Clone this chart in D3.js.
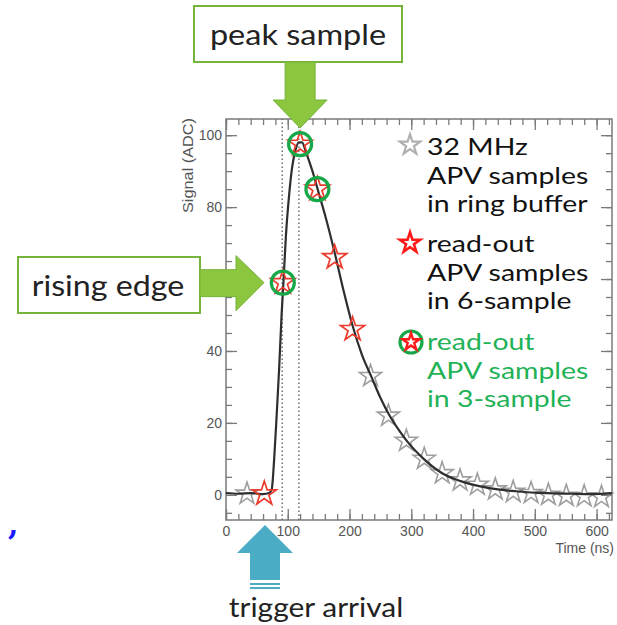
<!DOCTYPE html>
<html>
<head>
<meta charset="utf-8">
<script src="https://cdn.jsdelivr.net/npm/d3@7"></script>
<style>
  html, body { margin: 0; padding: 0; background: #fff; }
  svg { display: block; }
</style>
</head>
<body>
<svg id="chart" width="617" height="625"></svg>
<script>
// fitted pulse shape (time ns, signal ADC)
const curveTime = [0, 20, 40, 60, 70, 74, 78, 82, 86, 90, 93, 97, 102, 107, 112, 118, 123, 130, 140, 150, 160, 175, 190, 205, 220, 235, 250, 265, 280, 295, 320, 350, 380, 410, 440, 470, 500, 530, 560, 590, 625];
const curveSignal = [0.5, 0.3, 0.5, 0.2, 0.5, 1.5, 10, 22, 35, 50, 59, 72, 83, 91, 95.5, 98, 98, 95, 90, 84, 78, 68, 57, 47, 39, 33, 27, 22, 18, 14.5, 10, 6, 3.8, 2.4, 1.5, 1, 0.6, 0.4, 0.3, 0.2, 0.5];

// 32 MHz APV samples
const sampleTime = [34, 62, 92, 120, 148, 176, 205, 234, 263, 292, 321, 350, 379, 407, 436, 465, 494, 522, 551, 580, 608];
const sampleSignal = [0.3, 0.3, 59, 97.5, 85, 66, 46, 33, 22, 15, 10, 6, 4, 2.8, 1.5, 0.8, 0.5, 0, -0.3, -0.4, -0.6];
// which samples are read out
const sixSample = [1, 2, 3, 4, 5, 6];
const threeSample = [2, 3, 4];

const triggerMarks = [91, 118];
const xTicks = [0, 100, 200, 300, 400, 500, 600];
const yTicks = [0, 20, 40, 60, 80, 100];

const legendLines = [
  ["32 MHz", "APV samples", "in ring buffer"],
  ["read-out", "APV samples", "in 6-sample"],
  ["read-out", "APV samples", "in 3-sample"]
];

const svg = d3.select('#chart');
const plotLeft = 226, plotRight = 612, plotTop = 119, plotBottom = 520;
const x = d3.scaleLinear().domain([0, 625]).range([plotLeft, plotRight]);
const y = d3.scaleLinear().domain([-7, 104.5]).range([plotBottom, plotTop]);

const axisColor = '#7a7a7a';
const tickFont = '"Liberation Sans", Arial, sans-serif';
const noteFont = 'Lato, "Open Sans", sans-serif';
const green = '#8cc63f', greenDark = '#76b33a', textGreen = '#1fb257';

// the slide text is a wide humanist face, so Lato gets stretched a little
function wideText(parent, tx, ty, str, size, sx, anchor, color) {
  return parent.append('text')
    .attr('transform', `translate(${tx},${ty}) scale(${sx},1)`)
    .attr('text-anchor', anchor)
    .attr('fill', color)
    .style('font-family', noteFont).style('font-size', size + 'px')
    .text(str);
}

// frame
svg.append('rect')
  .attr('x', plotLeft).attr('y', plotTop)
  .attr('width', plotRight - plotLeft).attr('height', plotBottom - plotTop)
  .attr('fill', 'none').attr('stroke', axisColor).attr('stroke-width', 1.5);

const minorX = d3.range(0, 626, 20);
const minorY = d3.range(-5, 104, 5);

function styleAxis(g, labels) {
  g.select('.domain').remove();
  g.selectAll('line').attr('stroke', axisColor).attr('stroke-width', 1.3);
  g.selectAll('text')
    .attr('fill', '#555')
    .style('font-family', tickFont)
    .style('font-size', '14px')
    .style('display', labels ? null : 'none');
}

svg.append('g').attr('transform', `translate(0,${plotBottom})`)
  .call(d3.axisBottom(x).tickValues(minorX).tickSize(-6).tickFormat(''))
  .call(g => styleAxis(g, false));
svg.append('g').attr('transform', `translate(0,${plotBottom})`)
  .call(d3.axisBottom(x).tickValues(xTicks).tickSize(-11).tickPadding(6))
  .call(g => styleAxis(g, true));
svg.append('g').attr('transform', `translate(0,${plotTop})`)
  .call(d3.axisTop(x).tickValues(minorX).tickSize(-6).tickFormat(''))
  .call(g => styleAxis(g, false));
svg.append('g').attr('transform', `translate(0,${plotTop})`)
  .call(d3.axisTop(x).tickValues(xTicks).tickSize(-11).tickFormat(''))
  .call(g => styleAxis(g, false));

svg.append('g').attr('transform', `translate(${plotLeft},0)`)
  .call(d3.axisLeft(y).tickValues(minorY).tickSize(-6).tickFormat(''))
  .call(g => styleAxis(g, false));
svg.append('g').attr('transform', `translate(${plotLeft},0)`)
  .call(d3.axisLeft(y).tickValues(yTicks).tickSize(-11).tickPadding(4))
  .call(g => styleAxis(g, true));
svg.append('g').attr('transform', `translate(${plotRight},0)`)
  .call(d3.axisRight(y).tickValues(minorY).tickSize(-6).tickFormat(''))
  .call(g => styleAxis(g, false));
svg.append('g').attr('transform', `translate(${plotRight},0)`)
  .call(d3.axisRight(y).tickValues(yTicks).tickSize(-11).tickFormat(''))
  .call(g => styleAxis(g, false));

// axis titles
svg.append('text')
  .attr('transform', `translate(193,${plotTop - 1}) rotate(-90)`)
  .attr('text-anchor', 'end')
  .attr('fill', '#555')
  .style('font-family', tickFont).style('font-size', '14px')
  .attr('textLength', 95).attr('lengthAdjust', 'spacingAndGlyphs')
  .text('Signal (ADC)');
svg.append('text')
  .attr('x', plotRight + 2).attr('y', 553)
  .attr('text-anchor', 'end')
  .attr('fill', '#555')
  .style('font-family', tickFont).style('font-size', '14px')
  .text('Time (ns)');

// dotted marker lines
svg.selectAll('.marker').data(triggerMarks).join('line')
  .attr('x1', d => x(d)).attr('x2', d => x(d))
  .attr('y1', y(-7)).attr('y2', y(104.5))
  .attr('stroke', '#666').attr('stroke-width', 1.4)
  .attr('stroke-dasharray', '1.5,2.5');

// grey ring-buffer stars
const samples = sampleTime.map((t, i) => ({ t, v: sampleSignal[i], i }));
const star = d3.symbol().type(d3.symbolStar);
svg.selectAll('.grey').data(samples.filter(d => !sixSample.includes(d.i))).join('path')
  .attr('d', star.size(150))
  .attr('transform', d => `translate(${x(d.t)},${y(d.v)})`)
  .attr('fill', 'none').attr('stroke', '#8d8d8d').attr('stroke-width', 1.6)
  .attr('opacity', 0.85);

// fitted curve
const line = d3.line().x(d => x(d[0])).y(d => y(d[1])).curve(d3.curveMonotoneX);
svg.append('path')
  .datum(curveTime.map((t, i) => [t, curveSignal[i]]))
  .attr('d', line)
  .attr('fill', 'none').attr('stroke', '#2e2e2e').attr('stroke-width', 2.2);

// red read-out stars
svg.selectAll('.red').data(samples.filter(d => sixSample.includes(d.i))).join('path')
  .attr('d', star.size(180))
  .attr('transform', d => `translate(${x(d.t)},${y(d.v)})`)
  .attr('fill', 'none').attr('stroke', '#ea3b2c').attr('stroke-width', 1.7);

// green 3-sample circles
svg.selectAll('.ring').data(samples.filter(d => threeSample.includes(d.i))).join('circle')
  .attr('cx', d => x(d.t)).attr('cy', d => y(d.v)).attr('r', 11.5)
  .attr('fill', 'none').attr('stroke', '#16a848').attr('stroke-width', 3.2);

// legend
const legY = [155, 252, 350];
const legG = svg.append('g');
legendLines.forEach((lines, k) => {
  lines.forEach((str, j) => {
    wideText(legG, 427, legY[k] + j * 28.5, str, 23.5, 1.21, 'start', k === 2 ? textGreen : '#111');
  });
});
legG.append('path').attr('d', star.size(130))
  .attr('transform', `translate(410,${legY[0] - 10})`)
  .attr('fill', 'none').attr('stroke', '#b0b0b0').attr('stroke-width', 2.2);
legG.append('path').attr('d', star.size(130))
  .attr('transform', `translate(410,${legY[1] - 9})`)
  .attr('fill', 'none').attr('stroke', '#ff1a1a').attr('stroke-width', 2.6);
legG.append('circle').attr('cx', 411).attr('cy', legY[2] - 8).attr('r', 11)
  .attr('fill', 'none').attr('stroke', '#16a848').attr('stroke-width', 3.2);
legG.append('path').attr('d', star.size(90))
  .attr('transform', `translate(411,${legY[2] - 8})`)
  .attr('fill', 'none').attr('stroke', '#ff1a1a').attr('stroke-width', 2.4);

// annotation: peak sample
const ann = svg.append('g');
ann.append('rect').attr('x', 194).attr('y', 6).attr('width', 208).attr('height', 56)
  .attr('fill', '#fff').attr('stroke', greenDark).attr('stroke-width', 2);
wideText(ann, 298, 45, 'peak sample', 28, 1.16, 'middle', '#222');
const px = x(sampleTime[3]);
ann.append('path')
  .attr('d', `M${px - 15},62 L${px + 15},62 L${px + 15},100 L${px + 27},100 L${px},128 L${px - 27},100 L${px - 15},100 Z`)
  .attr('fill', green).attr('stroke', greenDark).attr('stroke-width', 1);

// annotation: rising edge
ann.append('rect').attr('x', 18).attr('y', 257).attr('width', 182).attr('height', 56)
  .attr('fill', '#fff').attr('stroke', greenDark).attr('stroke-width', 2);
wideText(ann, 108, 296, 'rising edge', 28, 1.15, 'middle', '#222');
const ry = y(sampleSignal[2]);
ann.append('path')
  .attr('d', `M200,${ry - 13} L236,${ry - 13} L236,${ry - 27} L264,${ry} L236,${ry + 28} L236,${ry + 14} L200,${ry + 14} Z`)
  .attr('fill', green).attr('stroke', greenDark).attr('stroke-width', 1);

// annotation: trigger arrival
const tx = 265;
const blue = '#4bacc6';
ann.append('path')
  .attr('d', `M${tx},525 L${tx + 28},553 L${tx + 15},553 L${tx + 15},580 L${tx - 15},580 L${tx - 15},553 L${tx - 28},553 Z`)
  .attr('fill', blue);
ann.append('rect').attr('x', tx - 15).attr('y', 583).attr('width', 30).attr('height', 2).attr('fill', blue);
ann.append('rect').attr('x', tx - 15).attr('y', 587).attr('width', 30).attr('height', 2).attr('fill', blue);
wideText(ann, 316, 617, 'trigger arrival', 27, 1.11, 'middle', '#222');

// stray comma at left
svg.append('text').attr('x', 8).attr('y', 535)
  .attr('fill', '#1a1aff').style('font-family', '"DejaVu Serif", serif')
  .style('font-size', '30px').style('font-weight', 'bold')
  .text(',');
</script>
</body>
</html>
